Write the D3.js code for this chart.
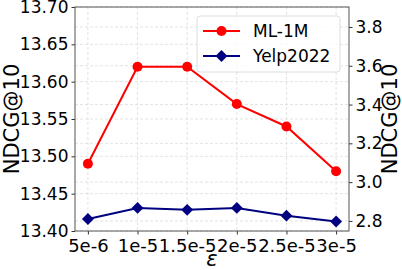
<!DOCTYPE html>
<html lang="en">
<head>
<script src="https://cdn.jsdelivr.net/npm/d3@7"></script>
<style>
  body { margin: 0; background: #fff; }
  text { font-family: "DejaVu Sans", sans-serif; }
</style>
</head>
<body>
<script>
    var w = 402, h = 270;
    var margin = {left: 75, right: 53, top: 7, bottom: 39};

    var epsLabels = ['5e-6', '1e-5', '1.5e-5', '2e-5', '2.5e-5', '3e-5'];
    var ml1m = [13.49, 13.62, 13.62, 13.57, 13.54, 13.48];
    var yelp = [2.81, 2.867, 2.857, 2.867, 2.827, 2.797];
    var leftTicks = [13.40, 13.45, 13.50, 13.55, 13.60, 13.65, 13.70];
    var rightTicks = [2.8, 3.0, 3.2, 3.4, 3.6, 3.8];

    var svg = d3.select('body').append('svg').attr('width', w).attr('height', h);

    var x = d3.scaleLinear().domain([-0.26, 5.26]).range([margin.left, w - margin.right]);
    var yL = d3.scaleLinear().domain([13.40, 13.70]).range([h - margin.bottom, margin.top]);
    var yR = d3.scaleLinear().domain([2.748, 3.903]).range([h - margin.bottom, margin.top]);

    var grid = svg.append('g').attr('stroke', '#dcdcdc').attr('stroke-dasharray', '3,2').attr('stroke-width', 0.8);
    grid.selectAll('.gx').data(epsLabels).enter().append('line')
        .attr('x1', function(d, i) { return x(i); }).attr('x2', function(d, i) { return x(i); })
        .attr('y1', margin.top).attr('y2', h - margin.bottom);
    grid.selectAll('.gl').data(leftTicks).enter().append('line')
        .attr('x1', margin.left).attr('x2', w - margin.right)
        .attr('y1', function(d) { return yL(d); }).attr('y2', function(d) { return yL(d); });
    grid.selectAll('.gr').data(rightTicks).enter().append('line')
        .attr('x1', margin.left).attr('x2', w - margin.right)
        .attr('y1', function(d) { return yR(d); }).attr('y2', function(d) { return yR(d); });

    // axes
    var xAxis = d3.axisBottom(x).tickValues(d3.range(epsLabels.length))
        .tickFormat(function(i) { return epsLabels[i]; }).tickSize(3.5).tickSizeOuter(0);
    var leftAxis = d3.axisLeft(yL).tickValues(leftTicks).tickFormat(d3.format('.2f')).tickSize(3.5).tickSizeOuter(0);
    var rightAxis = d3.axisRight(yR).tickValues(rightTicks).tickFormat(d3.format('.1f')).tickSize(3.5).tickSizeOuter(0);

    function styleAxis(g, size) {
        g.select('.domain').remove();
        g.selectAll('line').attr('stroke', '#333');
        g.selectAll('text').attr('font-size', size).attr('fill', '#000')
            .style('font-family', '"DejaVu Sans", sans-serif');
    }

    svg.append('g').attr('transform', 'translate(0,' + (h - margin.bottom) + ')').call(xAxis).call(styleAxis, '18px')
        .selectAll('text').attr('dy', '0.8em');
    svg.append('g').attr('transform', 'translate(' + margin.left + ',0)').call(leftAxis).call(styleAxis, '17px');
    svg.append('g').attr('transform', 'translate(' + (w - margin.right) + ',0)').call(rightAxis).call(styleAxis, '17px');

    svg.append('rect')
        .attr('x', margin.left).attr('y', margin.top)
        .attr('width', w - margin.left - margin.right).attr('height', h - margin.top - margin.bottom)
        .attr('fill', 'none').attr('stroke', '#555').attr('stroke-width', 1);

    // lines
    var lineL = d3.line().x(function(d, i) { return x(i); }).y(function(d) { return yL(d); });
    var lineR = d3.line().x(function(d, i) { return x(i); }).y(function(d) { return yR(d); });

    svg.append('path').attr('d', lineL(ml1m)).attr('fill', 'none').attr('stroke', 'red').attr('stroke-width', 2);
    svg.selectAll('.dotL').data(ml1m).enter().append('circle')
        .attr('cx', function(d, i) { return x(i); }).attr('cy', function(d) { return yL(d); })
        .attr('r', 5).attr('fill', 'red');

    var diamond = d3.symbol().type(d3.symbolDiamond2).size(90);
    svg.append('path').attr('d', lineR(yelp)).attr('fill', 'none').attr('stroke', 'navy').attr('stroke-width', 2);
    svg.selectAll('.dotR').data(yelp).enter().append('path')
        .attr('d', diamond)
        .attr('transform', function(d, i) { return 'translate(' + x(i) + ',' + yR(d) + ')'; })
        .attr('fill', 'navy');

    // axis titles
    svg.append('text').text('NDCG@10')
        .attr('transform', 'translate(19,' + ((margin.top + h - margin.bottom) / 2) + ') rotate(-90)')
        .attr('text-anchor', 'middle').attr('font-size', '21px');
    svg.append('text').text('NDCG@10')
        .attr('transform', 'translate(397,' + ((margin.top + h - margin.bottom) / 2) + ') rotate(-90)')
        .attr('text-anchor', 'middle').attr('font-size', '21px');
    svg.append('text').text('ε')
        .attr('x', (margin.left + w - margin.right) / 2).attr('y', 266)
        .attr('text-anchor', 'middle').attr('font-size', '21px').attr('font-style', 'italic');

    // legend
    var leg = svg.append('g').attr('transform', 'translate(197,16)');
    leg.append('rect').attr('width', 143).attr('height', 56).attr('rx', 3)
        .attr('fill', 'white').attr('fill-opacity', 0.8).attr('stroke', '#ddd');
    var series = [{name: 'ML-1M', color: 'red', shape: 'c'}, {name: 'Yelp2022', color: 'navy', shape: 'd'}];
    series.forEach(function(s, i) {
        var yy = 15 + i * 25;
        leg.append('line').attr('x1', 6).attr('x2', 43).attr('y1', yy).attr('y2', yy)
            .attr('stroke', s.color).attr('stroke-width', 2);
        if (s.shape === 'c') {
            leg.append('circle').attr('cx', 24.5).attr('cy', yy).attr('r', 5).attr('fill', s.color);
        } else {
            leg.append('path').attr('d', diamond).attr('transform', 'translate(24.5,' + yy + ')').attr('fill', s.color);
        }
        leg.append('text').text(s.name).attr('x', 56).attr('y', yy).attr('dy', '0.35em').attr('font-size', '17px');
    });
</script>
</body>
</html>
